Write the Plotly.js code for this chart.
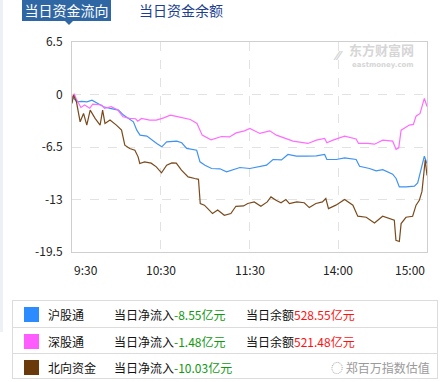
<!DOCTYPE html>
<html>
<head>
<meta charset="utf-8">
<script src="https://cdn.plot.ly/plotly-3.0.1.min.js"></script>
<style>
  html, body { margin:0; padding:0; background:#fff; }
  body { width:445px; height:382px; position:relative; overflow:hidden;
         font-family:"Noto Sans CJK SC", "Noto Sans", sans-serif; }
  #chart { position:absolute; left:0; top:0; width:445px; height:382px; }
  .abs { position:absolute; white-space:nowrap; }
  #strip { position:absolute; left:0; top:0; width:3px; height:332px; background:#edf1f6; }
  #tab1 { left:22px; top:0; width:89px; height:21px; background:#2f66a4; color:#fff;
          font-size:14px; line-height:21px; text-align:center; }
  #tri { left:65px; top:21px; width:0; height:0; border-left:4px solid transparent;
         border-right:4px solid transparent; border-top:4px solid #2f66a4; }
  #tab2 { left:139px; top:0; height:21px; line-height:21px; font-size:14px; color:#1c3f92; }
  #legend { position:absolute; left:12px; top:300px; width:424px; height:77px;
            border:1px solid #dcdcdc; box-sizing:content-box; }
  .row { position:absolute; left:0; width:424px; height:25px; }
  .row + .row { border-top:1px solid #dcdcdc; }
  .sq { position:absolute; left:11px; top:6px; width:15px; height:15px; }
  .txt { position:absolute; top:0; line-height:27px; font-size:12px; color:#111; }
  .g { color:#119911; }
  .r { color:#ff1111; }
</style>
</head>
<body>
<div id="chart"></div>
<div id="strip"></div>
<div id="tab1" class="abs">当日资金流向</div>
<div id="tri" class="abs"></div>
<div id="tab2" class="abs">当日资金余额</div>
<div id="legend"></div>
<script>
// ---- data (minutes since 9:30, trading time; 120 = 11:30/13:00) ----
const shTime = [0,3.4,6.7,10.1,13.5,16.9,21.3,25.8,31.4,34.8,38.2,41.5,43.8,46,50.6,53.9,57.3,60.7,64,70.8,74.2,77.5,84.3,86.5,89.9,94.4,100,104.5,109,113.5,120.2,127,131.5,135.9,141.6,146,151.7,158.4,165.2,170.8,172.3,178.7,184.3,192.1,194.4,201.1,205.6,210.1,216.8,219.1,221.3,225.9,231.5,233.7,236,238.2,240];
const shFlow = [-0.28,-0.9,-0.85,-0.9,-0.7,-1.1,-1.52,-1.72,-1.93,-2.55,-2.96,-3.38,-4.41,-5.03,-5.15,-5.65,-6.06,-6.48,-5.86,-5.78,-5.98,-6.68,-6.9,-8.34,-8.75,-9.16,-9.2,-9.58,-9.3,-9.04,-9.16,-8.96,-8.75,-8.05,-8.1,-7.43,-7.64,-7.64,-7.6,-7.43,-8.05,-8.05,-7.85,-8.05,-8.88,-9.16,-9.45,-9.3,-9.86,-10.4,-11.44,-11.44,-11.35,-10.95,-9.16,-7.64,-8.55];

const szTime = [0,1.5,3,6,8.5,12,14,20,22,26.5,31,34.5,39,43,44.5,47,52.5,57,62,66.5,70.5,76.5,80,84.5,88,94,101,106.5,111,116.6,120.2,127,133.7,138.2,141.6,149.4,159.5,165.2,170.8,172.3,176.4,184.3,192.1,193.7,200,204.5,210.1,216.8,219.1,220.9,222.5,228.1,230.8,232.6,235.3,237.1,238.2,240];
const szFlow = [-0.5,0.1,-0.6,-1.6,-1.3,-1.7,-1.2,-1.3,-1.7,-1.5,-1.93,-2.76,-2.96,-3.0,-3.3,-2.96,-3.17,-3.17,-2.9,-2.55,-2.7,-3.0,-3.1,-3.58,-5.03,-5.6,-5.2,-5.25,-4.75,-4.5,-4.2,-4.82,-4.5,-5.03,-5.24,-5.78,-6.06,-5.65,-5.44,-5.98,-5.65,-5.15,-5.5,-6.06,-6.06,-6.15,-5.65,-5.78,-6.8,-6.6,-4.41,-3.79,-3.7,-2.68,-2.34,-1.1,-0.48,-1.48];

const nbTime = [0,1,3,5.5,7.8,10,12.3,15.6,19,20.7,22.3,25.7,30,33.5,35.7,39,42.5,44.7,45.8,49,53.5,57,60.5,64,67.5,70.5,74,78.5,83,85.5,86.7,89.5,91.8,95,98.5,103,107.4,110.8,116,118.8,123.2,127.7,132,134.5,137.9,141.3,144.6,147,152,157,160.4,164.9,169.3,171.6,173.4,178.4,184.3,189.9,193.2,198.9,204.5,210,217.9,219,221.3,222.5,225.8,230.3,232.6,234.8,236.6,237.9,238.8,240];
const nbFlow = [-1.1,-0.07,-0.9,-3.38,-2.34,-3.79,-1.93,-2.96,-3.79,-1.93,-3.58,-3.17,-3.79,-4.41,-6.27,-6.68,-6.9,-7.72,-8.54,-8.34,-8.5,-8.96,-9.7,-8.75,-8.46,-8.5,-9.37,-10.2,-10.4,-10.5,-13.5,-13.7,-14.12,-14.74,-14.3,-14.95,-14.74,-13.84,-13.8,-13.5,-13.3,-13.84,-13.3,-12.68,-13.1,-13.4,-13.0,-13.5,-13.3,-13.4,-14.0,-13.5,-13.3,-12.88,-14.12,-13.7,-13.0,-13.7,-15.07,-15.2,-15.9,-15.07,-15.57,-18.05,-18.2,-15.98,-15.2,-15.07,-13.7,-13.1,-12.0,-9.6,-8.1,-10.03];

const yTicks = [6.5, 0, -6.5, -13, -19.5];
const xTickVals = [0, 60, 120, 180, 240];
const xTickText = ['9:30', '10:30', '11:30', '14:00', '15:00'];

const seriesNames = ['沪股通', '深股通', '北向资金'];
const netInflow = ['-8.55', '-1.48', '-10.03'];
const balance = ['528.55', '521.48', null];
const swatch = ['#2b8bff', '#ff5cff', '#6b3a0a'];
const lineColors = ['#3f93f2', '#ff6cff', '#7a4a1c'];

const font = '"Noto Sans CJK SC", "Noto Sans", sans-serif';

const traces = [
  {x: shTime, y: shFlow, name: seriesNames[0], line: {color: lineColors[0]}},
  {x: szTime, y: szFlow, name: seriesNames[1], line: {color: lineColors[1]}},
  {x: nbTime, y: nbFlow, name: seriesNames[2], line: {color: lineColors[2]}}
].map(t => Object.assign(t, {type: 'scatter', mode: 'lines', hoverinfo: 'skip',
  line: Object.assign(t.line, {width: 1.2})}));

const xAnn = xTickVals.map((v, i) => ({
  x: v, xref: 'x', y: 0, yref: 'paper', yanchor: 'top', yshift: -7,
  xanchor: i === 0 ? 'left' : (i === xTickVals.length - 1 ? 'right' : 'center'),
  text: xTickText[i], showarrow: false, font: {family: font, size: 12, color: '#222'}
}));

const wm = [
  {x: 0.775, y: 0.962, xref: 'paper', yref: 'paper', xanchor: 'left', yanchor: 'middle',
   text: '<b>东方财富网</b>', showarrow: false, font: {family: font, size: 13, color: '#d6d6d6'}},
  {x: 0.782, y: 0.892, xref: 'paper', yref: 'paper', xanchor: 'left', yanchor: 'middle',
   text: '<b>eastmoney.com</b>', showarrow: false, font: {family: 'DejaVu Sans', size: 7, color: '#d6d6d6'}},
  {x: 0.73, y: 0.935, xref: 'paper', yref: 'paper', xanchor: 'left', yanchor: 'middle',
   text: '<b>⁄⁄</b>', showarrow: false, font: {family: 'DejaVu Sans', size: 13, color: '#d6d6d6'}}
];

const layout = {
  width: 445, height: 382,
  margin: {l: 72, r: 18, t: 42, b: 130},
  paper_bgcolor: 'rgba(0,0,0,0)', plot_bgcolor: '#fff',
  showlegend: false,
  font: {family: font, size: 12, color: '#222'},
  xaxis: {range: [0, 240], tickvals: xTickVals, showticklabels: false,
          showgrid: true, gridcolor: '#e2e2e2', griddash: 'dash', gridwidth: 1,
          showline: true, linecolor: '#cfcfcf', mirror: true, zeroline: false, ticks: '', fixedrange: true},
  yaxis: {range: [-19.5, 6.5], tickvals: yTicks, ticktext: yTicks.map(String),
          showgrid: true, gridcolor: '#e2e2e2', griddash: 'dash', gridwidth: 1,
          showline: true, linecolor: '#cfcfcf', mirror: true, zeroline: false, ticks: '',
          ticklabelstandoff: 6, tickfont: {family: font, size: 12, color: '#222'}, fixedrange: true},
  annotations: xAnn.concat(wm)
};

Plotly.newPlot('chart', traces, layout, {staticPlot: true, displayModeBar: false});

// ---- legend table ----
const legend = document.getElementById('legend');
seriesNames.forEach((n, i) => {
  const row = document.createElement('div');
  row.className = 'row';
  row.style.top = (i * 26) + 'px';
  let html = '<div class="sq" style="background:' + swatch[i] + '"></div>' +
    '<div class="txt" style="left:35px">' + n + '</div>' +
    '<div class="txt" style="left:101px">当日净流入<span class="g">' + netInflow[i] + '亿元</span></div>';
  if (balance[i] !== null) {
    html += '<div class="txt" style="left:233px">当日余额<span class="r">' + balance[i] + '亿元</span></div>';
  } else {
    html += '<div class="txt" style="left:318px;color:#9a9a9a;font-size:12px">◌ 郑百万指数估值</div>';
  }
  row.innerHTML = html;
  legend.appendChild(row);
});
</script>
</body>
</html>
